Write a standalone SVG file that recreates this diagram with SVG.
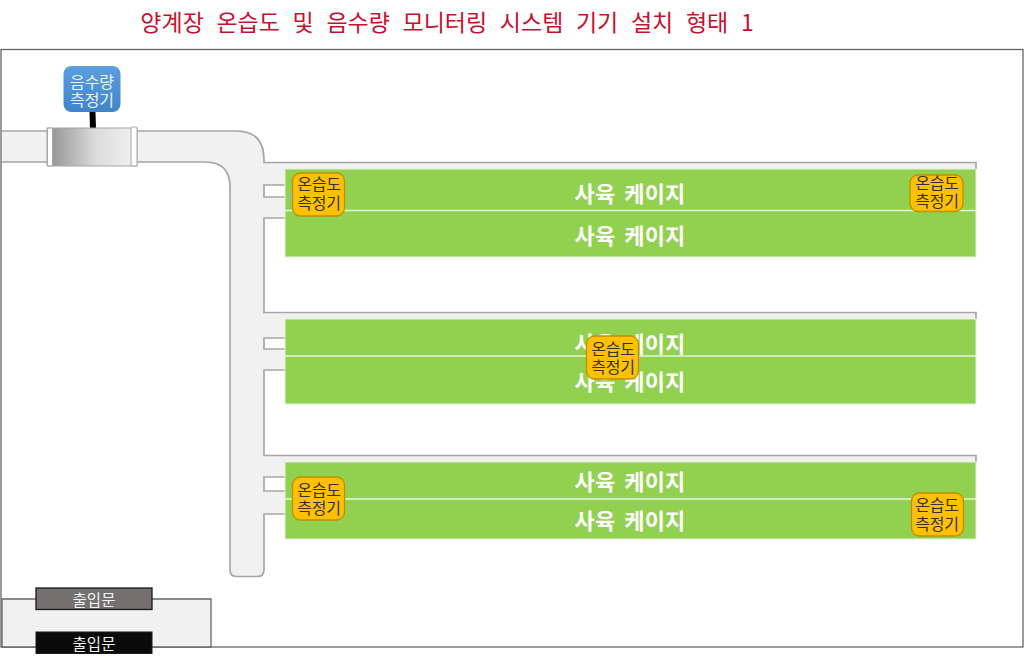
<svg xmlns="http://www.w3.org/2000/svg" width="1024" height="661" viewBox="0 0 1024 661">
<style>
text{font-family:"Noto Sans CJK KR","Noto Sans",sans-serif;text-anchor:middle}
.duct{fill:#f1f1f1}
.edge{fill:none;stroke:#a6a6a6;stroke-width:1.700}
.cage{fill:#92d050;stroke:#e4f3d6;stroke-width:1}
.sep{stroke:#e9f5dc;stroke-width:1.300}
.cl{fill:#fff;font-size:22px;font-weight:700;word-spacing:4px;letter-spacing:.1px}
.s{fill:#ffc000;stroke:#bf9000;stroke-width:1.300}
.sl{fill:#333;font-size:16px;letter-spacing:-.2px}
</style>
<defs>
<linearGradient id="pipe" x1="0" x2="1" y1="0" y2="0"><stop offset="0" stop-color="#8f8f8f"/><stop offset=".55" stop-color="#dcdcdc"/><stop offset="1" stop-color="#f2f2f2"/></linearGradient>
<linearGradient id="blue" x1="0" x2="0" y1="0" y2="1"><stop offset="0" stop-color="#5b9fe0"/><stop offset="1" stop-color="#3f84c8"/></linearGradient>
</defs>
<text x="447" y="31" font-size="23" fill="#c8102e" style="word-spacing:7.500px">양계장 온습도 및 음수량 모니터링 시스템 기기 설치 형태 1</text>
<rect id="frame" x="1" y="49.500" width="1022" height="597.500" fill="#fff" stroke="#666" stroke-width="1.300"/>
<g id="duct">
<path class="duct" d="M2 131H236Q264 131 264 160V162.500H976V170H285V185H264V197H285V218H264V312.500H976V320H285V338H264V349H285V370H264V455.500H976V463H285V477H264V491H285V514H264V570Q264 576.500 257 576.500H237Q230 576.500 230 570V187Q230 162 205 162H2Z"/>
<path class="edge" d="M2 131H236Q264 131 264 160V162.500H976V169M285 185H264V197H285M285 218H264V312.500H976V319M285 338H264V349H285M285 370H264V455.500H976V462M285 477H264V491H285M285 514H264V570Q264 576.500 257 576.500H237Q230 576.500 230 570V187Q230 162 205 162H2"/>
</g>
<g id="cages">
<rect class="cage" x="285" y="169" width="691" height="88"/><line class="sep" x1="285" x2="976" y1="210.500" y2="210.500"/>
<rect class="cage" x="285" y="319" width="691" height="85"/><line class="sep" x1="285" x2="976" y1="356" y2="356"/>
<rect class="cage" x="285" y="462" width="691" height="77"/><line class="sep" x1="285" x2="976" y1="499" y2="499"/>
<text class="cl" x="630" y="201.500">사육 케이지</text>
<text class="cl" x="630" y="243.500">사육 케이지</text>
<text class="cl" x="630" y="351.500">사육 케이지</text>
<text class="cl" x="630" y="389.500">사육 케이지</text>
<text class="cl" x="630" y="489.500">사육 케이지</text>
<text class="cl" x="630" y="528.500">사육 케이지</text>
</g>
<g id="connectors"><line x1="92.500" y1="112" x2="93" y2="129" stroke="#000" stroke-width="6"/></g>
<g id="flowmeter-body">
<rect x="47" y="128" width="90" height="38" fill="url(#pipe)" stroke="#a6a6a6" stroke-width="1"/>
<rect x="47.500" y="128" width="5" height="38" rx="1.500" fill="#fff" stroke="#a6a6a6" stroke-width="1"/>
<rect x="131" y="127" width="6" height="39" rx="1.500" fill="#fff" stroke="#a6a6a6" stroke-width="1"/>
</g>
<g id="flowmeter">
<rect x="63.500" y="66" width="57" height="46" rx="8" fill="url(#blue)"/>
<text font-size="16" fill="#eaf3fb"><tspan x="92" y="87.500">음수량</tspan><tspan x="92" y="105.500">측정기</tspan></text>
</g>
<g id="sensor-1"><rect class="s" x="292.500" y="173" width="52" height="43" rx="8"/><text class="sl"><tspan x="319" y="190">온습도</tspan><tspan x="319" y="209">측정기</tspan></text></g>
<g id="sensor-2"><rect class="s" x="910" y="175" width="53" height="36.500" rx="8"/><text class="sl"><tspan x="937" y="189">온습도</tspan><tspan x="937" y="207">측정기</tspan></text></g>
<g id="sensor-3"><rect class="s" x="586.500" y="336" width="52" height="43" rx="8"/><text class="sl"><tspan x="613" y="354.500">온습도</tspan><tspan x="613" y="372.500">측정기</tspan></text></g>
<g id="sensor-4"><rect class="s" x="292.500" y="477" width="52" height="43" rx="8"/><text class="sl"><tspan x="319" y="496">온습도</tspan><tspan x="319" y="513.500">측정기</tspan></text></g>
<g id="sensor-5"><rect class="s" x="911.500" y="493" width="52" height="43" rx="8"/><text class="sl"><tspan x="937" y="510.500">온습도</tspan><tspan x="937" y="529.500">측정기</tspan></text></g>
<g id="entrance-room"><path d="M2 599H211V647H2Z" fill="#f1f1f1" stroke="#666" stroke-width="1.300"/></g>
<g id="door-1"><rect x="36" y="588" width="116" height="21.500" fill="#747070" stroke="#1a1a1a" stroke-width="1.300"/><text x="94" y="605.500" font-size="15.500" fill="#f2f2f2">출입문</text></g>
<g id="door-2"><rect x="36" y="632" width="116" height="21.500" fill="#0a0a0a" stroke="#1a1a1a" stroke-width="1"/><text x="94" y="649.500" font-size="15.500" fill="#f2f2f2">출입문</text></g>
</svg>
